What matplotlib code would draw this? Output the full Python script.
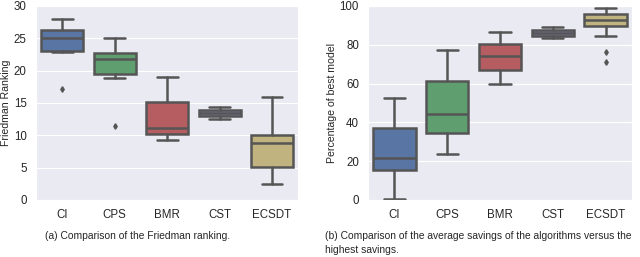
import numpy as np
import matplotlib.pyplot as plt
import seaborn as sns

sns.set_style('darkgrid')
plt.rcParams['font.family'] = ['Liberation Sans', 'DejaVu Sans']

algorithms = ['CI', 'CPS', 'BMR', 'CST', 'ECSDT']
colors = ['#4C72B0', '#55A868', '#C44E52', '#8172B2', '#CCB974']

# (a) Friedman ranking
rank_low = [22.8, 18.9, 9.3, 12.5, 2.5]
rank_q1 = [23.1, 19.4, 10.2, 13.0, 5.1]
rank_med = [25.1, 21.8, 11.1, 13.5, 8.8]
rank_q3 = [26.2, 22.7, 15.1, 13.95, 10.1]
rank_high = [28.0, 25.0, 19.0, 14.3, 15.9]
rank_fliers = [[17.1], [11.5], [], [], []]

# (b) percentage of best model
pct_low = [0.7, 23.8, 60.0, 83.4, 84.5]
pct_q1 = [15.6, 34.6, 67.2, 84.7, 89.8]
pct_med = [21.4, 44.1, 74.1, 86.1, 92.8]
pct_q3 = [37.0, 61.1, 80.4, 87.6, 95.7]
pct_high = [52.5, 77.5, 86.3, 89.2, 99.0]
pct_fliers = [[], [], [], [], [76.0, 71.0]]


def make_stats(low, q1, med, q3, high, fliers):
    stats = []
    for i in range(len(algorithms)):
        stats.append({'whislo': low[i], 'q1': q1[i], 'med': med[i],
                      'q3': q3[i], 'whishi': high[i], 'fliers': fliers[i]})
    return stats


def draw(ax, stats, ylim, yticks, ylabel):
    line = '#555555'
    lw = 1.8
    res = ax.bxp(stats, positions=range(len(stats)), widths=0.8,
                 patch_artist=True, manage_ticks=False,
                 boxprops=dict(edgecolor=line, linewidth=lw),
                 medianprops=dict(color=line, linewidth=lw),
                 whiskerprops=dict(color=line, linewidth=lw),
                 capprops=dict(color=line, linewidth=lw),
                 flierprops=dict(marker='d', markersize=2.8,
                                 markerfacecolor=line, markeredgecolor=line))
    for patch, c in zip(res['boxes'], colors):
        patch.set_facecolor(sns.desaturate(c, 0.75))
    ax.set_xlim(-0.5, len(stats) - 0.5)
    ax.set_ylim(*ylim)
    ax.set_yticks(yticks)
    ax.set_xticks(range(len(stats)))
    ax.set_xticklabels(algorithms)
    ax.tick_params(labelsize=8.3, pad=3)
    ax.set_ylabel(ylabel, fontsize=7.6, labelpad=2)
    ax.grid(axis='x', visible=False)


fig = plt.figure(figsize=(6.4, 2.57), dpi=100)
ax1 = fig.add_axes([0.056, 0.222, 0.410, 0.755])
ax2 = fig.add_axes([0.575, 0.222, 0.4125, 0.755])

draw(ax1, make_stats(rank_low, rank_q1, rank_med, rank_q3, rank_high, rank_fliers),
     (0, 30), range(0, 31, 5), 'Friedman Ranking')
draw(ax2, make_stats(pct_low, pct_q1, pct_med, pct_q3, pct_high, pct_fliers),
     (0, 100), range(0, 101, 20), 'Percentage of best model')

fig.text(0.07, 0.103, '(a) Comparison of the Friedman ranking.', fontsize=7.4, va='top')
fig.text(0.508, 0.103, '(b) Comparison of the average savings of the algorithms versus the\nhighest savings.',
         fontsize=7.4, linespacing=1.55, va='top')

fig.savefig('out.png', dpi=100)
